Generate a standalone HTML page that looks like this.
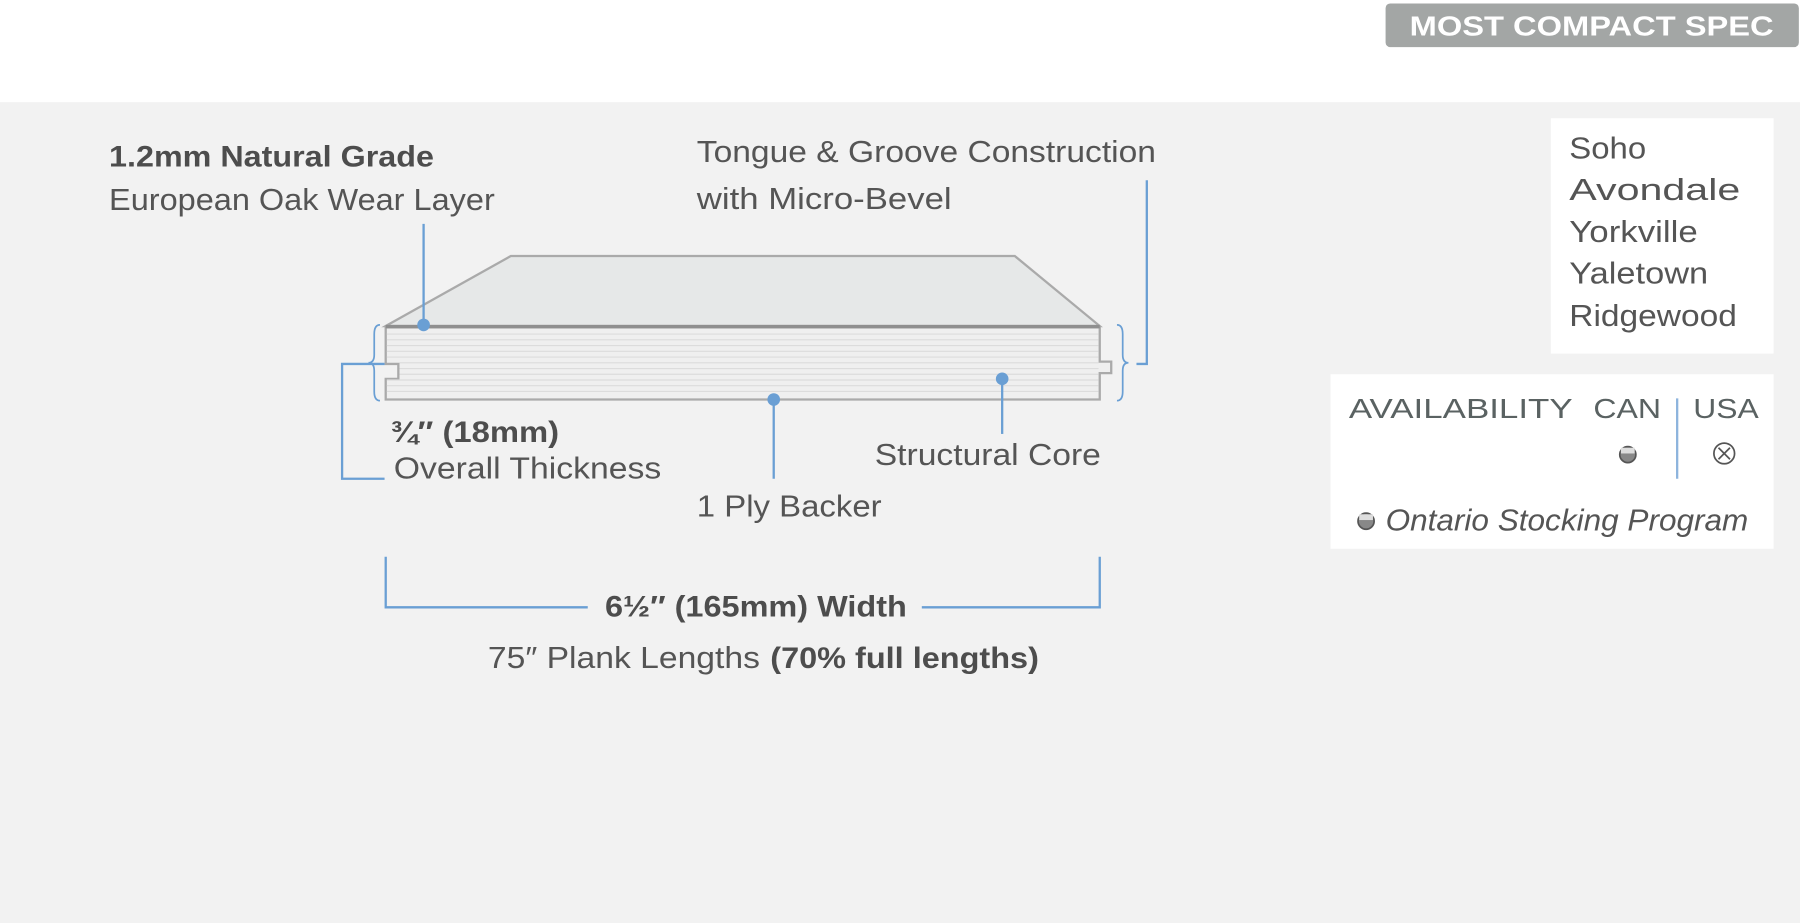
<!DOCTYPE html>
<html><head><meta charset="utf-8"><style>
html,body{margin:0;padding:0;background:#fff;}
svg{display:block;}
text{font-family:"Liberation Sans",sans-serif;fill:#555;}
</style></head><body>
<svg width="1800" height="923" viewBox="0 0 1568 804" xmlns="http://www.w3.org/2000/svg">
<rect x="0" y="0" width="1568" height="804" fill="#fff"/>
<rect x="0" y="89" width="1568" height="715" fill="#f2f2f2"/>
<!-- badge -->
<rect x="1207" y="3" width="360" height="38" rx="4" fill="#a3a6a5"/>
<text x="1228" y="31" font-size="24" font-weight="bold" textLength="317" lengthAdjust="spacingAndGlyphs" style="fill:#fff">MOST COMPACT SPEC</text>
<!-- labels -->
<text x="95" y="145" font-size="26" font-weight="bold" textLength="283" lengthAdjust="spacingAndGlyphs" style="fill:#4d4d4d">1.2mm Natural Grade</text>
<text x="95" y="183" font-size="27" textLength="336" lengthAdjust="spacingAndGlyphs">European Oak Wear Layer</text>
<text x="607" y="141" font-size="27" textLength="400" lengthAdjust="spacingAndGlyphs">Tongue &amp; Groove Construction</text>
<text x="607" y="182" font-size="27" textLength="222" lengthAdjust="spacingAndGlyphs">with Micro-Bevel</text>
<!-- plank -->
<polygon points="336,284 445,223 884,223 958,284" fill="#e6e8e8" stroke="#aaa" stroke-width="2"/>
<path d="M336,285 H958 V315 H968 V325 H958 V348 H336 V330 H347 V317 H336 Z" fill="#efefef" stroke="#aaa" stroke-width="2"/>
<g stroke="#dcdcdc" stroke-width="1">
<line x1="337" y1="291" x2="957" y2="291"/><line x1="337" y1="296" x2="957" y2="296"/>
<line x1="337" y1="301" x2="957" y2="301"/><line x1="337" y1="306" x2="957" y2="306"/>
<line x1="337" y1="311" x2="957" y2="311"/><line x1="348" y1="316" x2="957" y2="316"/>
<line x1="348" y1="321" x2="957" y2="321"/><line x1="348" y1="326" x2="957" y2="326"/>
<line x1="337" y1="331" x2="957" y2="331"/><line x1="337" y1="336" x2="957" y2="336"/>
<line x1="337" y1="341" x2="957" y2="341"/>
</g>
<line x1="336" y1="284.5" x2="958" y2="284.5" stroke="#8f8f8f" stroke-width="3"/>
<!-- connectors -->
<g stroke="#6a9fd4" stroke-width="2" fill="none">
<line x1="369" y1="195" x2="369" y2="283"/>
<polyline points="999,157 999,317 990,317"/>
<path d="M973,283 q5,0 5,8 v18 q0,7 5,7 q-5,0 -5,7 v18 q0,8 -5,8" stroke-width="1.5"/>
<path d="M331,283 q-5,0 -5,8 v18 q0,7 -5,7 q5,0 5,7 v18 q0,8 5,8" stroke-width="1.5"/>
<polyline points="335,317 298,317 298,417 335,417"/>
<line x1="674" y1="348" x2="674" y2="417"/>
<line x1="873" y1="330" x2="873" y2="378"/>
<polyline points="336,485 336,529 512,529"/>
<polyline points="803,529 958,529 958,485"/>
</g>
<g fill="#6a9fd4">
<circle cx="369" cy="283" r="5.5"/><circle cx="674" cy="348" r="5.5"/><circle cx="873" cy="330" r="5.5"/>
</g>
<text x="340" y="385" font-size="26" font-weight="bold" textLength="147" lengthAdjust="spacingAndGlyphs" style="fill:#4d4d4d">¾″ (18mm)</text>
<text x="343" y="417" font-size="27" textLength="233" lengthAdjust="spacingAndGlyphs">Overall Thickness</text>
<text x="607" y="450" font-size="27" textLength="161" lengthAdjust="spacingAndGlyphs">1 Ply Backer</text>
<text x="762" y="405" font-size="27" textLength="197" lengthAdjust="spacingAndGlyphs">Structural Core</text>
<text x="527" y="537" font-size="26" font-weight="bold" textLength="263" lengthAdjust="spacingAndGlyphs" style="fill:#4d4d4d">6½″ (165mm) Width</text>
<text x="425" y="582" font-size="27" textLength="237" lengthAdjust="spacingAndGlyphs">75″ Plank Lengths</text>
<text x="671" y="582" font-size="26" font-weight="bold" textLength="234" lengthAdjust="spacingAndGlyphs" style="fill:#4d4d4d">(70% full lengths)</text>
<!-- names box -->
<rect x="1351" y="103" width="194" height="205" fill="#fff"/>
<g font-size="27">
<text x="1367" y="138" textLength="67" lengthAdjust="spacingAndGlyphs">Soho</text>
<text x="1367" y="174" textLength="149" lengthAdjust="spacingAndGlyphs">Avondale</text>
<text x="1367" y="211" textLength="112" lengthAdjust="spacingAndGlyphs">Yorkville</text>
<text x="1367" y="247" textLength="121" lengthAdjust="spacingAndGlyphs">Yaletown</text>
<text x="1367" y="284" textLength="146" lengthAdjust="spacingAndGlyphs">Ridgewood</text>
</g>
<!-- availability -->
<rect x="1159" y="326" width="386" height="152" fill="#fff"/>
<text x="1175" y="364" font-size="24" textLength="195" lengthAdjust="spacingAndGlyphs" style="fill:#5a6262">AVAILABILITY</text>
<text x="1388" y="364" font-size="24" textLength="59" lengthAdjust="spacingAndGlyphs" style="fill:#5a6262">CAN</text>
<text x="1475" y="364" font-size="24" textLength="57" lengthAdjust="spacingAndGlyphs" style="fill:#5a6262">USA</text>
<line x1="1461" y1="347" x2="1461" y2="417" stroke="#8db4dd" stroke-width="2"/>
<circle cx="1418" cy="396" r="7" fill="#888" stroke="#555" stroke-width="1.5"/>
<rect x="1412" y="390" width="12" height="5" fill="#ddd"/>
<circle cx="1502" cy="395" r="9" fill="none" stroke="#555" stroke-width="1.5"/>
<path d="M1497,390 L1507,400 M1507,390 L1497,400" stroke="#555" stroke-width="1.5"/>
<circle cx="1190" cy="454" r="7" fill="#888" stroke="#555" stroke-width="1.5"/>
<rect x="1184" y="448" width="12" height="5" fill="#ddd"/>
<text x="1207" y="462" font-size="27" font-style="italic" textLength="316" lengthAdjust="spacingAndGlyphs">Ontario Stocking Program</text>
</svg>
</body></html>
